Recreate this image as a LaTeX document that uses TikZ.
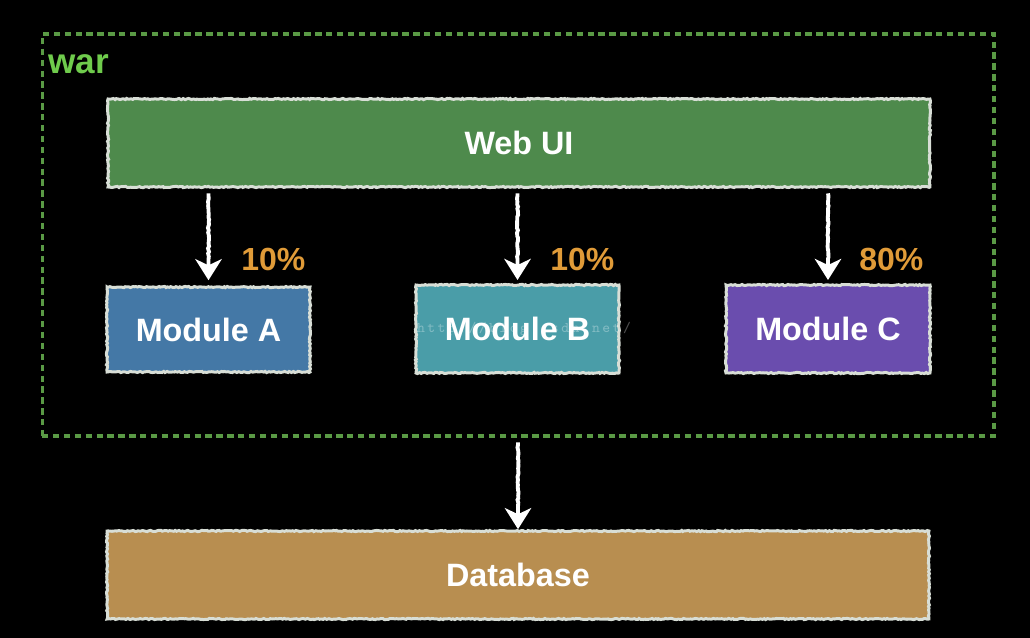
\documentclass[tikz,border=0pt]{standalone}
\usepackage{fontspec}
\setmainfont{Liberation Sans}
\usetikzlibrary{arrows.meta,decorations.pathmorphing}
\definecolor{bggreen}{HTML}{4E8A4C}
\definecolor{bgblue}{HTML}{4478A6}
\definecolor{bgteal}{HTML}{4A9DA8}
\definecolor{bgpurple}{HTML}{6A4DAE}
\definecolor{bgbrown}{HTML}{B88E50}
\definecolor{warcolor}{HTML}{6FCB4C}
\definecolor{warline}{HTML}{5A9A45}
\definecolor{pctcolor}{HTML}{E09B38}
\definecolor{chalk}{HTML}{D8DED6}
\tikzset{
  chalkbox/.style={draw=chalk,line width=1.7pt,decorate,decoration={random steps,segment length=1pt,amplitude=0.35pt},
    inner sep=0pt,text=white,font=\bfseries\fontsize{18.4}{18.4}\selectfont},
  pct/.style={text=pctcolor,font=\bfseries\fontsize{18.2}{18.2}\selectfont,inner sep=0pt},
  chalkarrow/.style={draw=white,line width=2.2pt,
    -{Stealth[length=12pt,width=15pt,inset=3.5pt,fill=white]},
    decorate,decoration={random steps,segment length=1.5pt,amplitude=0.35pt,post length=12pt}}
}
\begin{document}
\begin{tikzpicture}[x=0.02cm,y=-0.02cm]
  \fill[black] (0,0) rectangle (1030,638);
  \useasboundingbox (0,0) rectangle (1030,638);
  \node[draw=warline,line width=1.8pt,dash pattern=on 3.6pt off 2.6pt,minimum width=19.04cm,minimum height=8.04cm,inner sep=0pt]
    (war) at (518,235) {};
  \node[text=warcolor,font=\bfseries\fontsize{20}{20}\selectfont,inner sep=0pt,anchor=base west] (warlabel) at (48,74) {war};
  \node[chalkbox,fill=bggreen,minimum width=16.44cm,minimum height=1.76cm] (webui) at (519,143) {Web UI};
  \node[chalkbox,fill=bgblue,minimum width=4.06cm,minimum height=1.7cm] (moda) at (208.5,329.5) {Module A};
  \node[chalkbox,fill=bgteal,minimum width=4.06cm,minimum height=1.76cm] (modb) at (517.5,329) {Module B};
  \node[chalkbox,fill=bgpurple,minimum width=4.08cm,minimum height=1.76cm] (modc) at (828,329) {Module C};
  \node[chalkbox,fill=bgbrown,minimum width=16.44cm,minimum height=1.76cm] (db) at (518,575) {Database};
  % faint line of text over the middle module
  \node[text=white,opacity=0.3,font=\ttfamily\fontsize{8.4}{8.4}\selectfont,inner sep=0pt] (mark) at (524,329) {h\,t\,t\,p\,:\,/\,/\,b\,l\,o\,g\,.\,c\,s\,d\,n\,.\,n\,e\,t\,/};
  \node[pct,anchor=base west] (pcta) at (241,271) {10\%};
  \node[pct,anchor=base west] (pctb) at (550,271) {10\%};
  \node[pct,anchor=base west] (pctc) at (859,271) {80\%};
  % arrows start a little below the box above them
  \coordinate (starta) at ([yshift=-2.8pt]webui.south -| moda.north);
  \coordinate (startb) at ([yshift=-2.8pt]webui.south -| modb.north);
  \coordinate (startc) at ([yshift=-2.8pt]webui.south -| modc.north);
  \coordinate (startd) at ([yshift=-2.8pt]war.south -| db.north);
  \coordinate (enda) at ([yshift=3pt]moda.north);
  \coordinate (endb) at ([yshift=2pt]modb.north);
  \coordinate (endc) at ([yshift=2pt]modc.north);
  \coordinate (endd) at ([yshift=0.2pt]db.north);
  \draw[chalkarrow] (starta) -- (enda);
  \draw[chalkarrow] (startb) -- (endb);
  \draw[chalkarrow] (startc) -- (endc);
  \draw[chalkarrow] (startd) -- (endd);
\end{tikzpicture}
\end{document}
